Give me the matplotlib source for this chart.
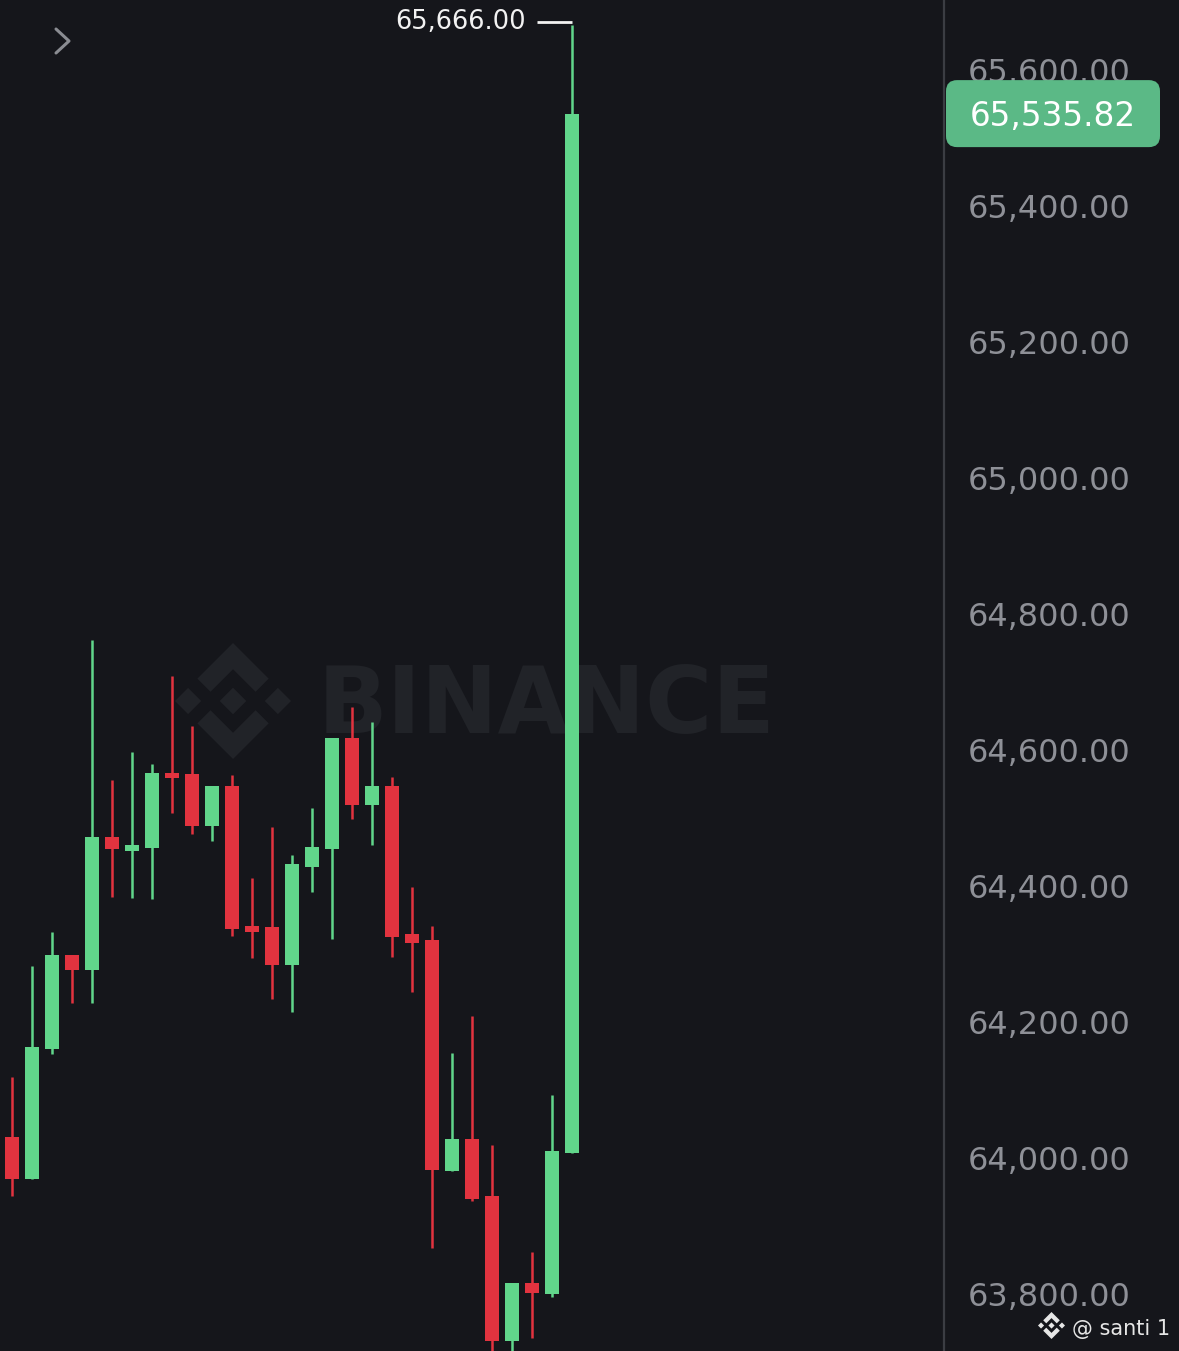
import matplotlib
matplotlib.use("Agg")
import matplotlib.pyplot as plt
from matplotlib.patches import Polygon, FancyBboxPatch
from matplotlib.transforms import Affine2D, IdentityTransform
from matplotlib.lines import Line2D

# ==================== colours ====================
BG = '#15161b'
UP = '#61d68b'
DOWN = '#e2333f'
AXIS_TXT = '#8e9097'
WATERMARK = '#212328'

# ==================== candle data ====================
opens = [64031, 63969, 64160, 64298, 64276, 64472, 64451, 64456, 64566, 64565,
         64488, 64547, 64341, 64340, 64284, 64428, 64454, 64618, 64519, 64547,
         64329, 64321, 63981, 64028, 63944, 63731, 63816, 63800, 64007]
highs = [64119, 64282, 64332, 64298, 64762, 64556, 64597, 64579, 64709, 64635,
         64547, 64563, 64412, 64487, 64446, 64515, 64618, 64663, 64641, 64560,
         64399, 64341, 64154, 64209, 64019, 63816, 63862, 64093, 65666.00]
lows = [63944, 63969, 64153, 64228, 64228, 64384, 64382, 64381, 64507, 64476,
        64466, 64326, 64294, 64234, 64215, 64391, 64322, 64498, 64460, 64296,
        64244, 63868, 63981, 63937, 63696, 63706, 63735, 63796, 64007]
closes = [63969, 64163, 64298, 64276, 64472, 64454, 64460, 64566, 64559, 64488,
          64547, 64337, 64332, 64284, 64432, 64457, 64618, 64519, 64547, 64325,
          64316, 63982, 64028, 63940, 63731, 63816, 63801, 64010, 65535.82]

price_ticks = [63800, 64000, 64200, 64400, 64600, 64800, 65000, 65200, 65400, 65600]
last_price = closes[-1]
session_high = highs[-1]

# ==================== figure ====================
W, H = 1179, 1351
fig = plt.figure(figsize=(W / 100, H / 100), dpi=100, facecolor=BG)
ax = fig.add_axes([0, 0, 944 / W, 1])
ax.set_facecolor(BG)
ax.set_xlim(-0.6, 46.6)
ax.set_ylim(63716.2, 65702.9)

# watermark logo (binance mark, svg units 0..126.61)
logo_parts = [
    [(38.73, 53.2), (63.32, 28.62), (87.94, 53.22), (102.24, 38.91), (63.32, 0), (24.43, 38.9)],
    [(0, 63.31), (14.3, 49.0), (28.61, 63.31), (14.3, 77.61)],
    [(38.73, 73.41), (63.32, 98.0), (87.94, 73.4), (102.25, 87.69), (63.35, 126.6), (24.44, 87.72)],
    [(98, 63.31), (112.3, 49.0), (126.61, 63.3), (112.3, 77.62)],
    [(77.83, 63.3), (63.32, 48.78), (48.81, 63.28), (63.32, 77.81)],
]


def draw_logo(target, left, top, size, color, z):
    s = size / 126.61
    tr = Affine2D().scale(s, -s).translate(left, H - top)
    for pts in logo_parts:
        p = Polygon(pts, closed=True, facecolor=color, edgecolor='none',
                    transform=tr, zorder=z)
        if target is fig:
            fig.add_artist(p)
        else:
            target.add_patch(p)


draw_logo(ax, 175, 643, 116, WATERMARK, 0.5)
ax.text(318, H - 733, 'BINANCE', transform=IdentityTransform(), fontsize=66,
        fontweight='bold', color=WATERMARK, ha='left', va='baseline', zorder=0.5)

# candles
xs = list(range(len(opens)))
colors = [UP if c >= o else DOWN for o, c in zip(opens, closes)]
bottoms = [min(o, c) for o, c in zip(opens, closes)]
heights = [max(abs(c - o), 3) for o, c in zip(opens, closes)]
ax.vlines(xs, lows, highs, colors=colors, linewidth=1.8, zorder=2)
ax.bar(xs, heights, bottom=bottoms, width=0.68, color=colors, linewidth=0, zorder=3)

# high marker
ax.plot([26.25, 28.0], [session_high + 4, session_high + 4], color='#f2f2f2', lw=2,
        zorder=4, solid_capstyle='butt')
ax.text(25.7, session_high + 4, f'{session_high:,.2f}', ha='right', va='center',
        fontsize=18.5, color='#f2f2f2', zorder=4)

# price axis on right
ax.yaxis.tick_right()
ax.set_yticks(price_ticks)
ax.set_yticklabels([f'{p:,.2f}' for p in price_ticks])
ax.tick_params(axis='y', length=0, pad=17, labelsize=23, labelcolor=AXIS_TXT)
ax.set_xticks([])
for side in ['top', 'left', 'bottom']:
    ax.spines[side].set_visible(False)
ax.spines['right'].set_color('#3b3d43')
ax.spines['right'].set_linewidth(1.6)

# last price box
yc = ax.transData.transform((0, last_price))[1]
box = FancyBboxPatch((946, yc - 33.5), 214, 67, boxstyle='round,pad=0,rounding_size=11',
                     facecolor='#5bb986', edgecolor='none', transform=IdentityTransform(),
                     zorder=5)
fig.add_artist(box)
fig.text(1053, yc - 3, f'{last_price:,.2f}', transform=IdentityTransform(), ha='center',
         va='center', fontsize=23.5, color='white', zorder=6)

# collapse chevron, top-left
fig.add_artist(Line2D([56, 69, 56], [H - 29, H - 41, H - 53], transform=IdentityTransform(),
                      color='#8a8c92', lw=2.2, solid_joinstyle='round',
                      solid_capstyle='round'))

# credit, bottom-right
draw_logo(fig, 1038, 1312, 27, '#e6e6e6', 6)
fig.text(1072, H - 1335, '@ santi 1', transform=IdentityTransform(), ha='left',
         va='baseline', fontsize=15, color='#e6e6e6', zorder=6)

fig.savefig('out.png', dpi=100, facecolor=BG)
